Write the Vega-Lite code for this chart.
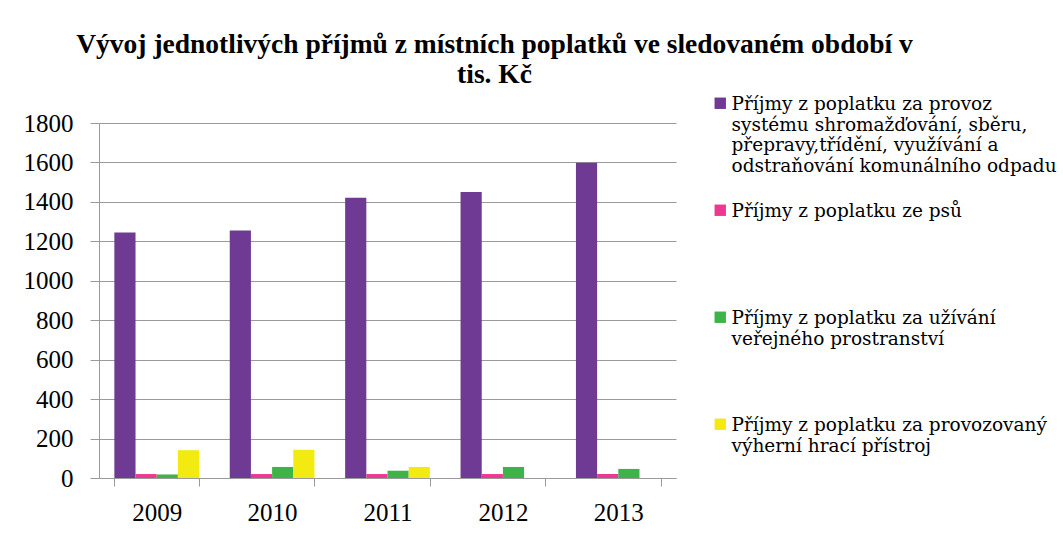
{
  "$schema": "https://vega.github.io/schema/vega-lite/v6.json",
  "width": 577,
  "height": 355,
  "padding": {"left": 23, "top": 30, "right": 5, "bottom": 5},
  "background": "white",
  "title": {
    "text": ["Vývoj jednotlivých příjmů z místních poplatků ve sledovaném období v", "tis. Kč"],
    "font": "Liberation Serif",
    "fontSize": 27.5,
    "fontWeight": "bold",
    "color": "#000000",
    "anchor": "middle",
    "frame": "group",
    "dx": 107,
    "lineHeight": 30,
    "offset": 6
  },
  "data": {
    "values": [
      {"rok": "2009", "druh": "s1", "hodnota": 1245},
      {"rok": "2009", "druh": "s2", "hodnota": 20},
      {"rok": "2009", "druh": "s3", "hodnota": 18},
      {"rok": "2009", "druh": "s4", "hodnota": 141},
      {"rok": "2010", "druh": "s1", "hodnota": 1255},
      {"rok": "2010", "druh": "s2", "hodnota": 20},
      {"rok": "2010", "druh": "s3", "hodnota": 56},
      {"rok": "2010", "druh": "s4", "hodnota": 143},
      {"rok": "2011", "druh": "s1", "hodnota": 1421},
      {"rok": "2011", "druh": "s2", "hodnota": 20},
      {"rok": "2011", "druh": "s3", "hodnota": 37},
      {"rok": "2011", "druh": "s4", "hodnota": 56},
      {"rok": "2012", "druh": "s1", "hodnota": 1450},
      {"rok": "2012", "druh": "s2", "hodnota": 20},
      {"rok": "2012", "druh": "s3", "hodnota": 56},
      {"rok": "2012", "druh": "s4", "hodnota": 0},
      {"rok": "2013", "druh": "s1", "hodnota": 1599},
      {"rok": "2013", "druh": "s2", "hodnota": 20},
      {"rok": "2013", "druh": "s3", "hodnota": 46},
      {"rok": "2013", "druh": "s4", "hodnota": 0}
    ]
  },
  "mark": {"type": "bar"},
  "encoding": {
    "x": {
      "field": "rok",
      "type": "nominal",
      "scale": {"paddingInner": 0.266, "paddingOuter": 0.133},
      "axis": {
        "title": null,
        "labelAngle": 0,
        "labelFont": "Liberation Serif",
        "labelFontSize": 25,
        "labelColor": "#000000",
        "labelPadding": 14,
        "tickBand": "extent",
        "tickSize": 8,
        "tickColor": "#9a9a9a",
        "domainColor": "#9a9a9a",
        "grid": false
      }
    },
    "xOffset": {"field": "druh", "type": "nominal", "sort": ["s1", "s2", "s3", "s4"]},
    "y": {
      "field": "hodnota",
      "type": "quantitative",
      "scale": {"domain": [0, 1800], "nice": false},
      "axis": {
        "title": null,
        "format": "d",
        "values": [0, 200, 400, 600, 800, 1000, 1200, 1400, 1600, 1800],
        "labelFont": "Liberation Serif",
        "labelFontSize": 25,
        "labelColor": "#000000",
        "labelPadding": 17,
        "tickSize": 9,
        "tickColor": "#9a9a9a",
        "domainColor": "#9a9a9a",
        "gridColor": "#9a9a9a",
        "gridWidth": 1.2
      }
    },
    "color": {
      "field": "druh",
      "type": "nominal",
      "scale": {"domain": ["s1", "s2", "s3", "s4"], "range": ["#6E3A93", "#EC3890", "#3DB449", "#F3EA12"]},
      "legend": {
        "title": null,
        "orient": "none",
        "legendX": 612,
        "legendY": -29,
        "symbolType": "square",
        "symbolSize": 130,
        "symbolStrokeWidth": 0,
        "labelFont": "DejaVu Serif",
        "labelFontSize": 18.5,
        "labelColor": "#000000",
        "labelLineHeight": 22.4,
        "labelLimit": 0,
        "labelOffset": 2,
        "labelBaseline": "top",
        "rowPadding": 5,
        "padding": 0,
        "encoding": {"labels": {"dy": {"value": -8}}},
        "labelExpr": "datum.label == 's1' ? ['Příjmy z poplatku za provoz', 'systému shromažďování, sběru,', 'přepravy,třídění, využívání a', 'odstraňování komunálního odpadu', ''] : datum.label == 's2' ? ['Příjmy z poplatku ze psů', '', '', '', ''] : datum.label == 's3' ? ['Příjmy z poplatku za užívání', 'veřejného prostranství', '', '', ''] : ['Příjmy z poplatku za provozovaný', 'výherní hrací přístroj']"
      }
    }
  },
  "config": {
    "font": "Liberation Serif",
    "view": {"stroke": null}
  }
}
